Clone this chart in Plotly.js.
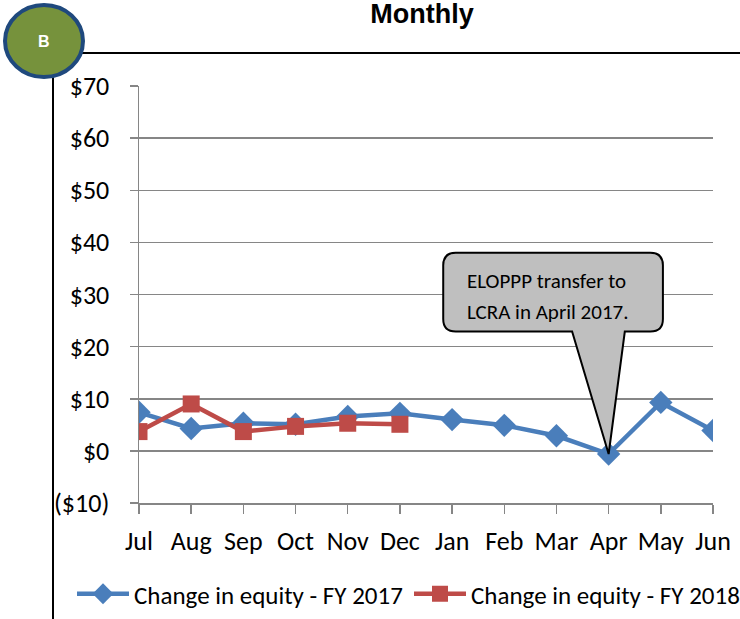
<!DOCTYPE html>
<html>
<head>
<meta charset="utf-8">
<script src="https://cdn.plot.ly/plotly-3.0.1.min.js"></script>
<style>
html,body{margin:0;padding:0;background:#fff;}
#chart{width:740px;height:619px;}
</style>
</head>
<body>
<div id="chart"></div>
<script>
// ---- data ----
const months = ["Jul","Aug","Sep","Oct","Nov","Dec","Jan","Feb","Mar","Apr","May","Jun"];
const fy2017 = [7.4, 4.3, 5.3, 5.1, 6.6, 7.2, 6.0, 4.9, 2.9, -0.6, 9.3, 3.9];
const fy2018 = [3.7, 9.0, 3.7, 4.7, 5.3, 5.1];
const yTickVals = [-10, 0, 10, 20, 30, 40, 50, 60, 70];
const yTickText = ["($10)", "$0", "$10", "$20", "$30", "$40", "$50", "$60", "$70"];
const seriesNames = ["Change in equity - FY 2017", "Change in equity - FY 2018"];
const titleText = "Monthly";
const badgeText = "B";
const calloutLines = ["ELOPPP transfer to", "LCRA in April 2017."];
const calloutMonth = "Apr";

// ---- layout geometry (px) ----
const W = 740, H = 619;
const L = 139, R = 713, T = 86, B = 503;
const pw = R - L, ph = B - T;
const px2paperX = p => (p - L) / pw;
const px2paperY = p => (B - p) / ph;

const FONT = "Carlito, Lato, 'Open Sans', sans-serif";
const idx = months.map((m, i) => i);

const traces = [
  {
    x: idx, y: fy2017, name: seriesNames[0], type: "scatter", mode: "lines+markers",
    line: {color: "#4A7EBB", width: 4.5},
    marker: {symbol: "diamond", size: 18, color: "#4A7EBB"},
    legend: "legend"
  },
  {
    x: idx.slice(0, fy2018.length), y: fy2018, name: seriesNames[1], type: "scatter", mode: "lines+markers",
    line: {color: "#BE4B48", width: 4.5},
    marker: {symbol: "square", size: 17, color: "#BE4B48"},
    legend: "legend2"
  }
];

// callout geometry in data units, tip anchored at the April data point
const ai = months.indexOf(calloutMonth);
const tipX = ai, tipY = fy2017[ai];
const bx0 = 5.83, bx1 = 10.04, byTop = 38.0, byBot = 22.9;
const rx = 0.24, ry = 2.4;
const wx0 = 8.30, wx1 = 9.31;
const calloutPath =
  `M ${bx0 + rx},${byTop} L ${bx1 - rx},${byTop} Q ${bx1},${byTop} ${bx1},${byTop - ry} ` +
  `L ${bx1},${byBot + ry} Q ${bx1},${byBot} ${bx1 - rx},${byBot} ` +
  `L ${wx1},${byBot} L ${tipX},${tipY} L ${wx0},${byBot} ` +
  `L ${bx0 + rx},${byBot} Q ${bx0},${byBot} ${bx0},${byBot + ry} ` +
  `L ${bx0},${byTop - ry} Q ${bx0},${byTop} ${bx0 + rx},${byTop} Z`;

const shapes = [
  {type: "line", xref: "paper", yref: "paper",
   x0: px2paperX(60), x1: px2paperX(740), y0: px2paperY(53), y1: px2paperY(53),
   line: {color: "#000", width: 2}},
  {type: "line", xref: "paper", yref: "paper",
   x0: px2paperX(53), x1: px2paperX(53), y0: px2paperY(60), y1: px2paperY(625),
   line: {color: "#000", width: 2}},
  {type: "circle", xref: "paper", yref: "paper",
   x0: px2paperX(5), x1: px2paperX(83), y0: px2paperY(5), y1: px2paperY(77),
   fillcolor: "#76923C", line: {color: "#1F497D", width: 4}},
  {type: "path", xref: "x", yref: "y", path: calloutPath,
   fillcolor: "#BFBFBF", line: {color: "#000", width: 2}}
];

const annotations = [
  {xref: "paper", yref: "paper", x: px2paperX(44), y: px2paperY(41), xanchor: "center", yanchor: "middle",
   text: "<b>" + badgeText + "</b>",
   showarrow: false, font: {family: "Liberation Sans, Arial, sans-serif", size: 16, color: "#fff"}},
  {xref: "x", yref: "y", x: 6.25, y: 32.6, xanchor: "left", yanchor: "middle", text: calloutLines[0],
   showarrow: false, font: {family: FONT, size: 21, color: "#000"}},
  {xref: "x", yref: "y", x: 6.25, y: 26.7, xanchor: "left", yanchor: "middle", text: calloutLines[1],
   showarrow: false, font: {family: FONT, size: 21, color: "#000"}}
];

const legendCommon = {
  orientation: "h", xanchor: "left", yanchor: "middle", y: px2paperY(594),
  font: {family: FONT, size: 25, color: "#000"}, itemwidth: 52,
  bgcolor: "rgba(0,0,0,0)", borderwidth: 0
};

const layout = {
  width: W, height: H,
  margin: {l: L, r: W - R, t: T, b: H - B, pad: 0, autoexpand: false},
  paper_bgcolor: "#fff", plot_bgcolor: "#fff",
  title: {text: "<b>" + titleText + "</b>", x: 422 / W, xanchor: "center",
          y: 1 - 14 / H, yanchor: "middle",
          font: {family: "Liberation Sans, Arial, sans-serif", size: 27, color: "#000"}},
  font: {family: FONT, size: 26, color: "#000"},
  xaxis: {
    range: [0, 11], tickmode: "array", tickvals: idx, ticktext: months,
    showgrid: false, zeroline: false, showline: true, linecolor: "#868686", linewidth: 1.5,
    ticks: "outside", ticklen: 9, tickcolor: "#868686", tickwidth: 1.5,
    ticklabelstandoff: 5, tickfont: {family: FONT, size: 26, color: "#000"}, fixedrange: true
  },
  yaxis: {
    range: [-10, 70], tickmode: "array", tickvals: yTickVals, ticktext: yTickText,
    showgrid: true, gridcolor: "#868686", gridwidth: 1.5, zeroline: false,
    showline: true, linecolor: "#868686", linewidth: 1.5,
    ticks: "outside", ticklen: 8, tickcolor: "#868686", tickwidth: 1.5,
    ticklabelstandoff: 15, tickfont: {family: FONT, size: 26, color: "#000"}, fixedrange: true
  },
  showlegend: true,
  legend: Object.assign({}, legendCommon, {x: px2paperX(72)}),
  legend2: Object.assign({}, legendCommon, {x: px2paperX(409)}),
  shapes: shapes,
  annotations: annotations
};

Plotly.newPlot("chart", traces, layout, {displayModeBar: false, staticPlot: true});
</script>
</body>
</html>
